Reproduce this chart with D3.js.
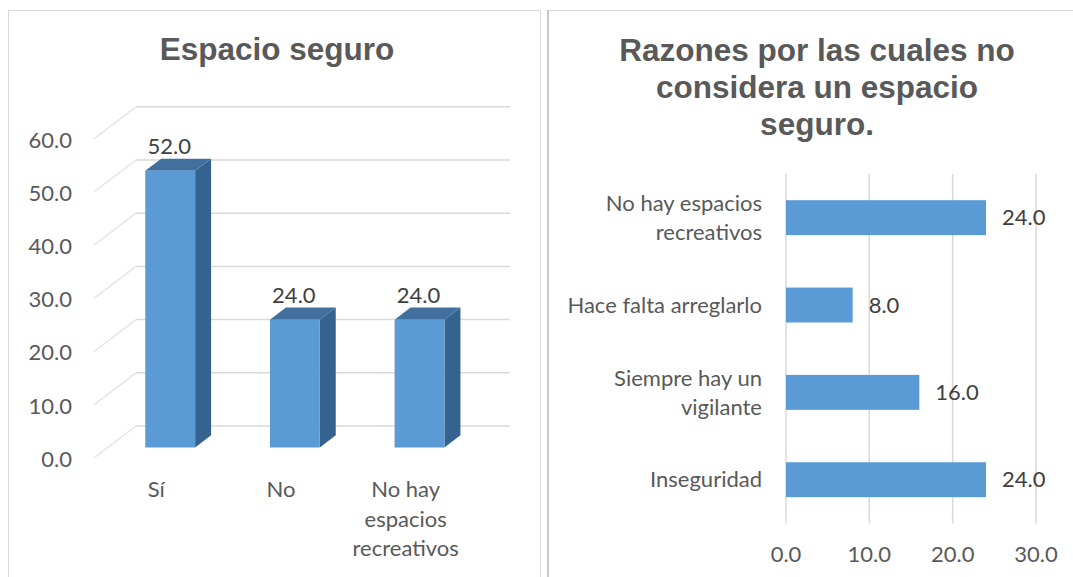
<!DOCTYPE html>
<html><head><meta charset="utf-8">
<script src="https://cdn.jsdelivr.net/npm/d3@7"></script>
<style>html,body{margin:0;padding:0;background:#fff;}svg{display:block;}</style>
</head><body>
<script>
// ---- data ----
const catsL = ["Sí", "No", "No hay espacios recreativos"];
const valsL = [52.0, 24.0, 24.0];
const catLinesL = [["Sí"], ["No"], ["No hay", "espacios", "recreativos"]];
const ticksL = [0, 10, 20, 30, 40, 50, 60];
const titleL = "Espacio seguro";

const catsR = ["No hay espacios recreativos", "Hace falta arreglarlo", "Siempre hay un vigilante", "Inseguridad"];
const valsR = [24.0, 8.0, 16.0, 24.0];
const catLinesR = [["No hay espacios", "recreativos"], ["Hace falta arreglarlo"], ["Siempre hay un", "vigilante"], ["Inseguridad"]];
const ticksR = [0, 10, 20, 30];
const titleLinesR = ["Razones por las cuales no", "considera un espacio", "seguro."];

// ---- setup ----
const W = 1073, H = 577;
const svg = d3.select("body").append("svg").attr("width", W).attr("height", H);
const labelFont = "Lato, 'Open Sans', sans-serif";
const titleFont = "'Liberation Sans', Arial, sans-serif";
const FS = 22;
const fmt = d3.format(".1f");

// panel frames
svg.append("rect").attr("x", 8.5).attr("y", 10.5).attr("width", 532).attr("height", 600)
  .attr("fill", "none").attr("stroke", "#d9d9d9").attr("stroke-width", 1);
svg.append("rect").attr("x", 548).attr("y", 10.5).attr("width", 540).attr("height", 600)
  .attr("fill", "none").attr("stroke", "#d9d9d9").attr("stroke-width", 1);
svg.append("line").attr("x1", 548).attr("x2", 548).attr("y1", 10).attr("y2", H)
  .attr("stroke", "#c8c8c8").attr("stroke-width", 2);

// ---- left: 3D column chart ----
const DX = 42, DY = -32;
const yL = d3.scaleLinear().domain([0, 60]).range([458, 458 - 319.2]);
const xL = d3.scaleBand().domain(catsL).range([94, 468]).paddingInner(0.6).paddingOuter(0.3);
const P = (x, v, d) => [x + DX * d, yL(v) + DY * d];
const gL = svg.append("g");

// back wall gridlines and side wall diagonals
ticksL.forEach(t => {
  const a = P(94, t, 1), b = P(468, t, 1), c = P(94, t, 0);
  gL.append("line").attr("x1", a[0]).attr("y1", a[1]).attr("x2", b[0]).attr("y2", b[1])
    .attr("stroke", "#d9d9d9").attr("stroke-width", 1.5);
  gL.append("line").attr("x1", c[0]).attr("y1", c[1]).attr("x2", a[0]).attr("y2", a[1])
    .attr("stroke", "#e6e6e6").attr("stroke-width", 1.5);
});

// y tick labels
gL.selectAll("text.ytick").data(ticksL).join("text")
  .attr("x", 72).attr("y", d => yL(d) + 1)
  .attr("dy", "0.35em").attr("text-anchor", "end")
  .attr("font-family", labelFont).attr("font-size", FS).attr("fill", "#595959")
  .text(d => fmt(d));

// bars
const d0 = 0.33, d1 = 0.71;
catsL.forEach((c, i) => {
  const v = valsL[i];
  const x0 = xL(c), x1 = xL(c) + xL.bandwidth();
  const f = [P(x0, 0, d0), P(x1, 0, d0), P(x1, v, d0), P(x0, v, d0)];
  const s = [P(x1, 0, d0), P(x1, 0, d1), P(x1, v, d1), P(x1, v, d0)];
  const t = [P(x0, v, d0), P(x1, v, d0), P(x1, v, d1), P(x0, v, d1)];
  gL.append("polygon").attr("points", s.join(" ")).attr("fill", "#36628f");
  gL.append("polygon").attr("points", t.join(" ")).attr("fill", "#41709f");
  gL.append("polygon").attr("points", f.join(" ")).attr("fill", "#5b9bd5");
  const top = P((x0 + x1) / 2, v, d1);
  gL.append("text").attr("x", (x0 + x1) / 2 + DX * d0 - 1).attr("y", top[1] - 5)
    .attr("text-anchor", "middle").attr("font-family", labelFont).attr("font-size", FS)
    .attr("fill", "#404040").text(fmt(v));
});

// category labels
catsL.forEach((c, i) => {
  const cx = xL(c) + xL.bandwidth() / 2;
  catLinesL[i].forEach((ln, j) => {
    gL.append("text").attr("x", cx).attr("y", 489.5 + j * 29.5).attr("dy", "0.35em")
      .attr("text-anchor", "middle").attr("font-family", labelFont).attr("font-size", FS)
      .attr("fill", "#595959").text(ln);
  });
});

// title
svg.append("text").attr("x", 277).attr("y", 59.5).attr("text-anchor", "middle")
  .attr("font-family", titleFont).attr("font-weight", "bold").attr("font-size", 31.5)
  .attr("fill", "#595959").text(titleL);

// ---- right: horizontal bar chart ----
const xR = d3.scaleLinear().domain([0, 30]).range([786, 1036]);
const yR = d3.scaleBand().domain(catsR).range([174, 523.4]).paddingInner(0.6).paddingOuter(0.3);
const gR = svg.append("g");

gR.selectAll("line.grid").data(ticksR).join("line")
  .attr("x1", d => xR(d)).attr("x2", d => xR(d)).attr("y1", 174).attr("y2", 523.4)
  .attr("stroke", "#d9d9d9").attr("stroke-width", 1.5);

gR.selectAll("rect.bar").data(catsR).join("rect")
  .attr("x", xR(0)).attr("y", d => yR(d))
  .attr("width", (d, i) => xR(valsR[i]) - xR(0)).attr("height", yR.bandwidth())
  .attr("fill", "#5b9bd5");

gR.selectAll("text.val").data(catsR).join("text")
  .attr("x", (d, i) => xR(valsR[i]) + 16).attr("y", d => yR(d) + yR.bandwidth() / 2)
  .attr("dy", "0.35em").attr("font-family", labelFont).attr("font-size", FS)
  .attr("fill", "#404040").text((d, i) => fmt(valsR[i]));

catsR.forEach((c, i) => {
  const lines = catLinesR[i];
  const cy = yR(c) + yR.bandwidth() / 2;
  lines.forEach((ln, j) => {
    gR.append("text").attr("x", 762).attr("y", cy + (j - (lines.length - 1) / 2) * 29)
      .attr("dy", "0.35em").attr("text-anchor", "end").attr("font-family", labelFont)
      .attr("font-size", FS).attr("fill", "#595959").text(ln);
  });
});

gR.selectAll("text.xtick").data(ticksR).join("text")
  .attr("x", d => xR(d)).attr("y", 554).attr("dy", "0.35em").attr("text-anchor", "middle")
  .attr("font-family", labelFont).attr("font-size", FS).attr("fill", "#595959")
  .text(d => fmt(d));

titleLinesR.forEach((ln, j) => {
  svg.append("text").attr("x", 817).attr("y", 60.7 + j * 37).attr("text-anchor", "middle")
    .attr("font-family", titleFont).attr("font-weight", "bold").attr("font-size", 31.5)
    .attr("fill", "#595959").text(ln);
});
</script>
</body></html>
